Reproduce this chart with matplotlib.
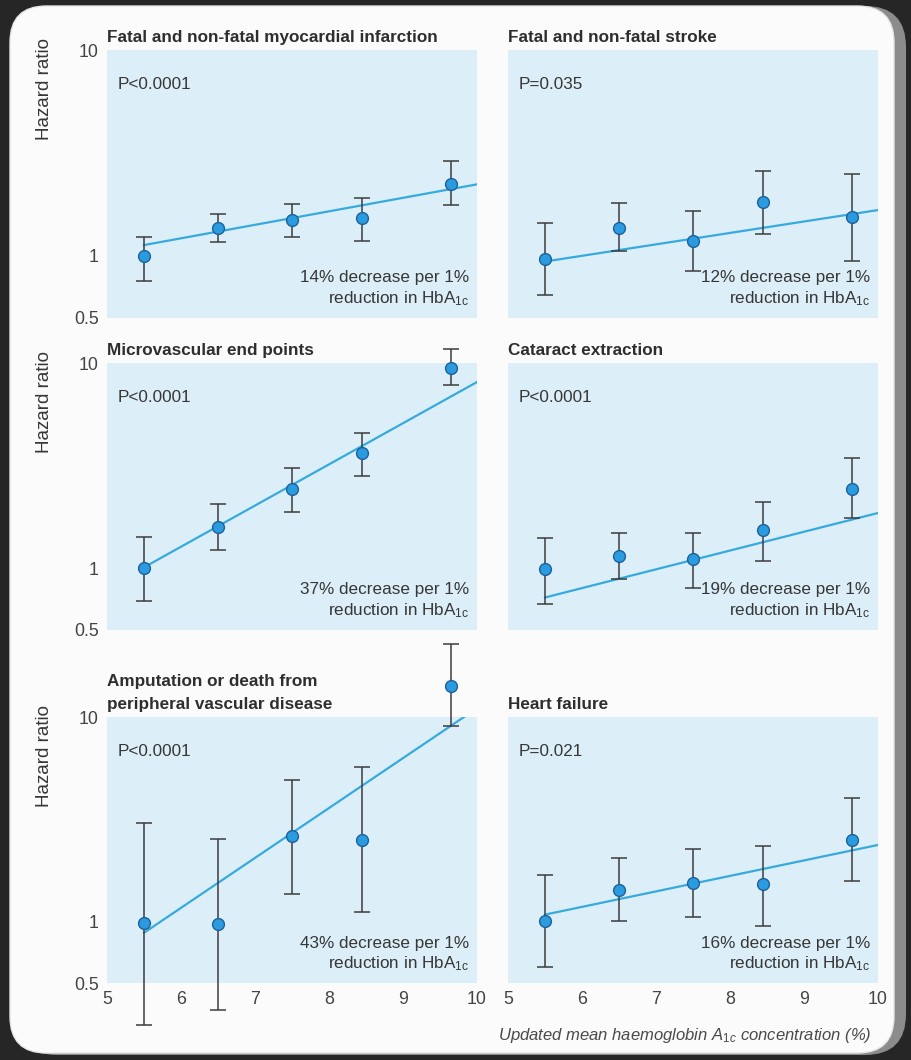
import numpy as np
import matplotlib
matplotlib.use("Agg")
import matplotlib.pyplot as plt
from matplotlib.patches import FancyBboxPatch

plt.rcParams['font.family'] = ['Liberation Sans', 'DejaVu Sans']
plt.rcParams['mathtext.fontset'] = 'custom'
plt.rcParams['mathtext.rm'] = 'Liberation Sans'
plt.rcParams['mathtext.it'] = 'Liberation Sans:italic'

# Mean HbA1c of each category (%)
hba1c = [5.5, 6.5, 7.5, 8.45, 9.65]

titles = [["Fatal and non-fatal myocardial infarction"],
          ["Fatal and non-fatal stroke"],
          ["Microvascular end points"],
          ["Cataract extraction"],
          ["Amputation or death from", "peripheral vascular disease"],
          ["Heart failure"]]
p_values = ["P<0.0001", "P=0.035", "P<0.0001", "P<0.0001", "P<0.0001", "P=0.021"]
pct_decrease = [14, 12, 37, 19, 43, 16]
fit_start = [1.13, 0.94, 1.01, 0.72, 0.88, 1.08]   # fitted hazard ratio at 5.5%

mi_hr = [1.00, 1.37, 1.50, 1.53, 2.24]
mi_lo = [0.76, 1.17, 1.24, 1.18, 1.77]
mi_hi = [1.24, 1.60, 1.79, 1.91, 2.89]

stroke_hr = [0.97, 1.37, 1.18, 1.83, 1.55]
stroke_lo = [0.65, 1.06, 0.85, 1.28, 0.95]
stroke_hi = [1.45, 1.81, 1.65, 2.59, 2.50]

micro_hr = [1.00, 1.59, 2.44, 3.66, 9.44]
micro_lo = [0.69, 1.23, 1.88, 2.83, 7.80]
micro_hi = [1.42, 2.06, 3.09, 4.58, 11.7]

cat_hr = [0.99, 1.15, 1.11, 1.54, 2.44]
cat_lo = [0.67, 0.89, 0.80, 1.08, 1.76]
cat_hi = [1.40, 1.48, 1.48, 2.10, 3.46]

amp_hr = [0.98, 0.97, 2.63, 2.51, 14.2]
amp_lo = [0.31, 0.37, 1.37, 1.11, 9.0]
amp_hi = [3.04, 2.54, 4.93, 5.70, 22.7]

hf_hr = [1.00, 1.43, 1.55, 1.52, 2.51]
hf_lo = [0.60, 1.01, 1.05, 0.95, 1.57]
hf_hi = [1.68, 2.05, 2.27, 2.35, 4.02]

series = [(mi_hr, mi_lo, mi_hi), (stroke_hr, stroke_lo, stroke_hi),
          (micro_hr, micro_lo, micro_hi), (cat_hr, cat_lo, cat_hi),
          (amp_hr, amp_lo, amp_hi), (hf_hr, hf_lo, hf_hi)]

W, H = 912, 1060
fig = plt.figure(figsize=(W / 100, H / 100), dpi=100)
fig.patch.set_facecolor('#262626')

# page with rounded corners and a soft shadow
shadow = FancyBboxPatch((16 / W, 5 / H), 890 / W, 1049 / H,
                        boxstyle="round,pad=0,rounding_size=0.045",
                        transform=fig.transFigure, facecolor='#8c8c8c',
                        edgecolor='none', mutation_aspect=W / H, zorder=-2)
page = FancyBboxPatch((10 / W, 7 / H), 884 / W, 1047 / H,
                      boxstyle="round,pad=0,rounding_size=0.04",
                      transform=fig.transFigure, facecolor='#fbfbfb',
                      edgecolor='#e6e6e6', lw=1, mutation_aspect=W / H, zorder=-1)
fig.patches.extend([shadow, page])

col_left = [107, 508]
row_top = [50, 363, 717]
row_bot = [318, 630, 983]
ax_w = 370

fs = 12.3
text_col = '#363636'
line_col = '#36aadf'

for i in range(6):
    r, c = divmod(i, 2)
    x0 = col_left[c]
    rect = [x0 / W, 1 - row_bot[r] / H, ax_w / W, (row_bot[r] - row_top[r]) / H]
    ax = fig.add_axes(rect)
    ax.set_facecolor('#dceff8')
    for s in ax.spines.values():
        s.set_visible(False)
    ax.set_yscale('log')
    ax.set_xlim(5, 10)
    ax.set_ylim(0.5, 10)
    ax.set_xticks([5, 6, 7, 8, 9, 10])
    ax.set_yticks([0.5, 1, 10])
    ax.minorticks_off()
    ax.set_yticklabels(['0.5', '1', '10'] if c == 0 else [])
    if r == 2:
        ax.set_xticklabels(['5', '6', '7', '8', '9', '10'])
    else:
        ax.set_xticklabels([])
    ax.tick_params(length=0, labelsize=fs + 0.5, colors='#444444', pad=6)

    # regression line drawn from the stated per-1% decrease
    f = 1 / (1 - pct_decrease[i] / 100)
    ax.plot([5.5, 10], [fit_start[i], fit_start[i] * f ** 4.5],
            color=line_col, lw=1.6, zorder=2)

    hr, lo, hi = series[i]
    hr = np.array(hr)
    yerr = [hr - np.array(lo), np.array(hi) - hr]
    ax.errorbar(hba1c, hr, yerr=yerr, fmt='none', ecolor='#3c3c3c',
                elinewidth=1.1, capsize=5.5, capthick=1.1, zorder=3, clip_on=False)
    ax.plot(hba1c, hr, 'o', ms=8.5, mfc='#2b9be0', mec='#1d5f99', mew=1,
            zorder=4, clip_on=False)

    # title lines stacked upward from just above the plotting area
    lines = titles[i]
    for k, line in enumerate(lines):
        off = 6 + (len(lines) - 1 - k) * 16.5
        ax.annotate(line, xy=(0, 1), xycoords='axes fraction',
                    xytext=(0, off), textcoords='offset points',
                    ha='left', va='baseline', fontsize=fs,
                    fontweight='bold', color='#2e2e2e')
    ax.text(0.03, 0.87, p_values[i], transform=ax.transAxes, fontsize=fs,
            color=text_col, va='center', ha='left')
    ax.text(0.98, 0.133, f"{pct_decrease[i]}% decrease per 1%",
            transform=ax.transAxes, fontsize=fs, color=text_col,
            ha='right', va='baseline')
    ax.text(0.98, 0.056, r"reduction in HbA$_{\mathrm{1c}}$", transform=ax.transAxes,
            fontsize=fs, color=text_col, ha='right', va='baseline')

    if c == 0:
        ax.text(-0.168, 0.855, "Hazard ratio", transform=ax.transAxes,
                rotation=90, fontsize=13.5, color=text_col,
                ha='center', va='center')

fig.text(498 / W, 1 - 1040 / H,
         r"Updated mean haemoglobin A$_{1c}$ concentration (%)",
         fontsize=fs - 0.3, style='italic', color='#4a4a4a',
         ha='left', va='baseline')

fig.savefig('out.png', dpi=100, facecolor=fig.get_facecolor())
